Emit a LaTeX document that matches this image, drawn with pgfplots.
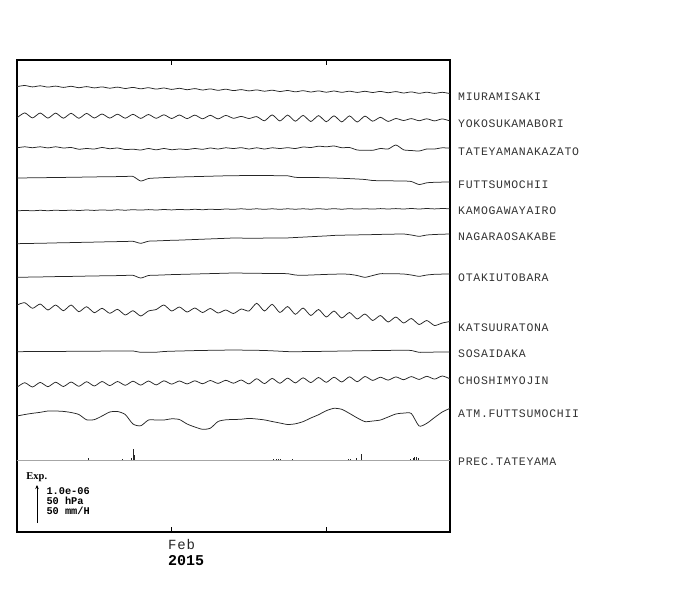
\documentclass[border=0pt]{standalone}
\usepackage{pgfplots}
\pgfplotsset{compat=1.18}
\usepackage{pgfplotstable}
\usetikzlibrary{arrows.meta}
\usepackage{fontspec}
\setmainfont{Liberation Serif}
\newfontfamily\monofont{Liberation Mono}
\newfontfamily\labfont[LetterSpace=6]{Liberation Mono}
\pgfplotstableread{
d mi yo ta fu ka na ot kt so ch at
0 86.6 117.8 147.8 178.0 210.9 243.7 277.3 305.0 351.7 387.2 416.0
0.5 85.5 112.9 146.8 177.9 210.4 243.5 277.2 302.7 351.6 382.7 414.5
1 86.9 117.9 147.7 177.8 210.8 243.4 277.0 308.3 351.6 387.0 413.3
1.5 85.8 113.0 146.8 177.7 210.3 243.2 276.9 304.0 351.5 382.4 412.3
2 87.1 118.1 147.9 177.6 210.7 243.1 276.8 310.0 351.5 386.7 411.0
2.5 86.1 113.1 146.8 177.5 210.2 242.9 276.6 305.0 351.4 382.2 411.0
3 87.4 118.2 148.0 177.4 210.6 242.7 276.5 310.7 351.4 386.5 411.4
3.5 86.3 113.3 147.5 177.3 210.1 242.6 276.4 305.0 351.3 382.0 412.5
4 87.7 118.3 149.2 177.2 210.5 242.4 276.2 311.7 351.3 386.3 414.5
4.5 86.6 113.4 148.5 177.0 210.0 242.3 276.1 306.7 351.2 381.7 419.8
5 87.9 118.0 149.0 176.9 210.4 242.1 276.0 312.7 351.2 386.0 419.6
5.5 86.9 114.0 147.5 176.8 209.9 241.9 275.8 308.3 351.1 381.5 416.0
6 88.2 118.1 148.7 176.7 210.3 241.8 275.7 313.3 351.1 385.6 412.0
6.5 87.1 114.2 148.0 176.6 209.8 241.6 275.6 309.3 351.0 381.5 411.5
7 88.5 118.2 149.5 176.5 210.2 241.5 275.4 315.0 351.0 385.3 414.5
7.5 87.4 114.3 149.2 176.4 209.7 241.3 275.3 310.7 351.0 381.2 424.0
8 88.8 118.4 150.0 181.0 210.1 243.3 278.0 316.0 352.3 385.1 425.8
8.5 87.7 114.5 148.5 178.5 209.6 241.2 275.5 311.0 352.3 381.0 420.0
9 89.1 118.3 149.8 178.0 210.0 240.9 275.2 309.5 352.2 384.9 420.0
9.5 88.0 114.8 148.5 177.6 209.5 240.6 274.9 305.0 351.5 380.8 420.0
10 89.4 118.5 149.7 177.3 209.9 240.3 274.6 311.0 351.2 384.1 418.8
10.5 88.3 115.0 149.0 177.0 209.4 240.1 274.4 307.0 351.0 381.0 419.5
11 89.7 118.6 149.5 176.8 209.8 239.8 274.2 312.0 350.8 383.9 424.0
11.5 88.6 115.1 148.5 176.6 209.3 239.5 274.0 308.0 350.6 380.8 427.0
12 90.0 118.8 149.3 176.4 209.7 239.2 273.8 312.5 350.5 383.7 429.3
12.5 88.9 115.3 148.0 176.2 209.2 238.9 273.6 308.5 350.3 380.5 428.2
13 90.3 118.9 149.0 176.0 209.6 238.6 273.4 313.0 350.2 383.4 421.5
13.5 89.2 115.4 147.8 175.8 209.0 238.3 273.2 310.0 350.1 380.3 419.8
14 90.6 118.3 148.5 175.7 209.3 238.0 273.0 313.5 350.0 383.2 419.5
14.5 89.6 116.4 147.7 175.6 208.8 238.1 273.1 309.0 350.1 380.0 419.2
15 90.9 118.5 149.0 175.6 209.3 238.2 273.2 311.0 350.2 383.9 418.4
15.5 89.9 116.6 147.8 175.5 208.8 238.2 273.3 303.3 350.3 378.7 419.0
16 91.2 120.8 149.0 175.5 209.3 238.1 273.4 311.0 350.5 383.6 419.9
16.5 90.2 114.9 147.8 175.6 208.8 238.0 273.5 304.3 350.8 378.4 421.5
17 91.5 121.0 148.5 175.7 209.3 238.0 273.6 312.5 351.2 383.3 423.0
17.5 90.5 115.1 147.7 175.8 208.8 237.9 273.7 306.5 351.6 378.1 424.5
18 91.8 121.2 148.5 177.3 209.2 237.5 275.0 314.3 351.7 382.9 423.8
18.5 90.7 115.4 147.0 177.4 208.8 237.1 275.3 308.0 351.6 377.8 421.6
19 92.0 121.5 147.5 177.5 209.2 236.7 275.0 315.5 351.5 382.6 418.0
19.5 90.9 115.6 146.2 177.6 208.7 236.3 274.7 309.5 351.4 377.5 414.7
20 92.2 121.7 146.8 177.8 209.2 235.9 274.4 317.0 351.3 382.3 410.7
20.5 91.0 115.8 146.0 178.0 208.7 235.4 274.2 311.0 351.2 377.2 408.3
21 92.3 121.9 147.7 178.3 209.2 235.2 274.0 318.0 351.0 382.0 409.3
21.5 91.2 115.9 147.5 178.6 208.7 235.0 274.3 312.5 350.9 376.8 413.4
22 92.4 122.0 150.0 179.0 209.1 234.9 275.5 319.0 350.8 381.7 417.9
22.5 91.3 116.1 150.2 179.5 208.7 234.7 277.3 314.0 350.7 376.5 421.6
23 92.5 121.2 150.3 180.5 209.1 234.6 275.5 320.5 350.6 380.4 421.0
23.5 91.4 117.3 148.5 180.7 208.6 234.4 273.7 315.5 350.5 377.2 420.0
24 92.7 121.4 149.0 180.8 209.0 234.2 273.7 322.0 350.4 380.1 417.0
24.5 91.6 118.5 145.0 180.9 208.6 234.1 273.8 317.0 350.3 376.9 414.0
25 93.0 120.5 149.8 181.0 209.0 234.0 274.0 323.0 350.2 379.7 413.1
25.5 91.9 118.6 150.5 181.5 208.5 235.0 275.0 318.5 350.5 376.6 413.5
26 93.3 120.7 151.0 184.5 209.0 236.3 276.3 324.5 352.3 379.4 426.0
26.5 92.2 118.8 149.0 182.8 208.5 235.0 275.0 320.5 352.2 376.3 423.3
27 93.4 120.9 149.0 182.3 208.9 234.5 274.3 325.5 352.1 379.1 417.5
27.5 92.3 118.9 147.8 182.1 208.5 234.2 274.1 323.0 352.0 376.0 412.0
28 93.6 121.0 148.2 182.0 208.8 234.0 274.0 321.5 352.0 378.8 408.3
}\data
\begin{document}
\begin{tikzpicture}
\path[use as bounding box] (-17pt,-58pt) rectangle (683pt,532pt);
\begin{axis}[
  at={(0pt,0pt)}, anchor=south west,
  scale only axis, width=433pt, height=472pt,
  xmin=0, xmax=28, ymin=60, ymax=532, y dir=reverse,
  clip=false,
  axis line style={line width=1.2pt, black},
  xtick={10,20}, xticklabels={}, ytick=\empty,
  major tick length=5pt, tick style={black, line width=0.8pt},
  xtick pos=both, tick align=inside,
  trace/.style={black!85, line width=0.75pt, smooth, tension=0.4},
]
\addplot[trace] table[x=d,y=mi]{\data};
\addplot[trace] table[x=d,y=yo]{\data};
\addplot[trace] table[x=d,y=ta]{\data};
\addplot[trace] table[x=d,y=fu]{\data};
\addplot[trace] table[x=d,y=ka]{\data};
\addplot[trace] table[x=d,y=na]{\data};
\addplot[trace] table[x=d,y=ot]{\data};
\addplot[trace] table[x=d,y=kt]{\data};
\addplot[trace] table[x=d,y=so]{\data};
\addplot[trace] table[x=d,y=ch]{\data};
\addplot[trace] table[x=d,y=at]{\data};
% precipitation baseline and spikes
\addplot[gray!70, line width=1pt] coordinates {(0,460) (28,460)};
\addplot[black!85, line width=0.7pt, unbounded coords=jump] coordinates {
(4.59,460)(4.59,458)(4.7,nan)
(6.79,460)(6.79,458.5)(6.9,nan)
(7.37,460)(7.37,457.5)(7.4,nan)
(7.5,460)(7.5,449)(7.55,nan)
(7.6,460)(7.6,455)(7.65,nan)
(16.6,460)(16.6,459)(16.65,nan)
(16.75,460)(16.75,459)(16.8,nan)
(16.9,460)(16.9,459)(16.95,nan)
(17.05,460)(17.05,459)(17.1,nan)
(17.8,460)(17.8,459)(17.9,nan)
(21.4,460)(21.4,459)(21.45,nan)
(21.55,460)(21.55,458.5)(21.6,nan)
(21.95,460)(21.95,458)(22.0,nan)
(22.24,460)(22.24,454)(22.3,nan)
(25.45,460)(25.45,458.5)(25.5,nan)
(25.6,460)(25.6,457.5)(25.65,nan)
(25.72,460)(25.72,457)(25.76,nan)
(25.84,460)(25.84,457)(25.88,nan)
(25.93,460)(25.93,458)(26.0,nan)
};
% station labels
\begin{scope}[every node/.style={anchor=west, inner sep=0pt, font=\labfont\fontsize{11.5}{12}\selectfont, text=black!80}]
\node at (axis cs:28.52,96.3) {MIURAMISAKI};
\node at (axis cs:28.52,123.7) {YOKOSUKAMABORI};
\node at (axis cs:28.52,151.5) {TATEYAMANAKAZATO};
\node at (axis cs:28.52,184.7) {FUTTSUMOCHII};
\node at (axis cs:28.52,210.8) {KAMOGAWAYAIRO};
\node at (axis cs:28.52,237.0) {NAGARAOSAKABE};
\node at (axis cs:28.52,277.3) {OTAKIUTOBARA};
\node at (axis cs:28.52,327.3) {KATSUURATONA};
\node at (axis cs:28.52,354.0) {SOSAIDAKA};
\node at (axis cs:28.52,380.7) {CHOSHIMYOJIN};
\node at (axis cs:28.52,413.3) {ATM.FUTTSUMOCHII};
\node at (axis cs:28.52,461.7) {PREC.TATEYAMA};
\end{scope}
% scale block
\node[anchor=base west, inner sep=0pt, font=\bfseries\fontsize{10.5}{10.5}\selectfont] at (axis cs:0.60,479) {Exp.};
\begin{scope}[every node/.style={anchor=base west, inner sep=0pt, font=\monofont\bfseries\fontsize{10.3}{10.3}\selectfont}]
\node at (axis cs:1.895,494) {1.0e-06};
\node at (axis cs:1.895,504) {50 hPa};
\node at (axis cs:1.895,514) {50 mm/H};
\end{scope}
\draw[line width=0.8pt, -{Stealth[length=4pt,width=3.5pt]}] (axis cs:1.293,523) -- (axis cs:1.293,485);
% date labels
\node[anchor=west, inner sep=0pt, font=\labfont\fontsize{14}{14}\selectfont, text=black!85] at (axis cs:9.765,544.5) {Feb};
\node[anchor=west, inner sep=0pt, font=\monofont\bfseries\fontsize{15}{15}\selectfont] at (axis cs:9.765,561) {2015};
\end{axis}
\end{tikzpicture}
\end{document}
